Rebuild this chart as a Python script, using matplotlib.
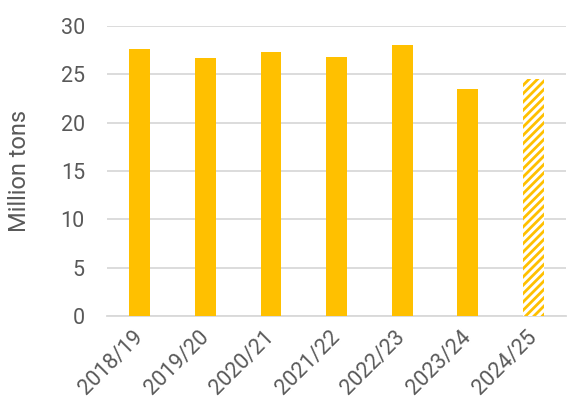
import matplotlib
matplotlib.use("Agg")
import matplotlib.pyplot as plt
import matplotlib.transforms as mtransforms

categories = ["2018/19", "2019/20", "2020/21", "2021/22", "2022/23", "2023/24", "2024/25"]
values = [27.6, 26.65, 27.35, 26.75, 28.05, 23.45, 24.5]
forecast = [False, False, False, False, False, False, True]
yticks = [0, 5, 10, 15, 20, 25, 30]

plt.rcParams['font.family'] = ['Roboto', 'DejaVu Sans']
plt.rcParams['hatch.linewidth'] = 2.0
gold = "#FFC000"
txt = "#595959"

fig = plt.figure(figsize=(5.79, 4.16), dpi=100)
ax = fig.add_axes([0.185, 0.2404, 0.7925, 0.697])
x = range(len(categories))
for i, (v, f) in enumerate(zip(values, forecast)):
    if f:
        ax.bar(i, v, width=0.32, color="white", edgecolor=gold, hatch="////", linewidth=0, zorder=3)
    else:
        ax.bar(i, v, width=0.32, color=gold, linewidth=0, zorder=3)
ax.set_xlim(-0.5, len(categories) - 0.5)
ax.set_ylim(0, 30)
ax.set_yticks(yticks)
ax.set_xticks(list(x))
ax.set_xticklabels(categories, rotation=45, ha="right", va="center", rotation_mode="anchor", fontsize=15.5, color=txt)
offset = mtransforms.ScaledTranslation(-5 / 100, 0, fig.dpi_scale_trans)
for lab in ax.get_xticklabels():
    lab.set_transform(lab.get_transform() + offset)
ax.tick_params(axis="y", labelsize=15.5, labelcolor=txt, length=0, pad=16)
ax.tick_params(axis="x", length=0, pad=13)
ax.grid(axis="y", color="#D9D9D9", linewidth=1.3, zorder=0)
for s in ["top", "right", "left"]:
    ax.spines[s].set_visible(False)
ax.spines["bottom"].set_color("#D9D9D9")
ax.spines["bottom"].set_linewidth(1.3)
ax.set_ylabel("Million tons", fontsize=17, color=txt, labelpad=21)
fig.savefig("out.png", dpi=100)
